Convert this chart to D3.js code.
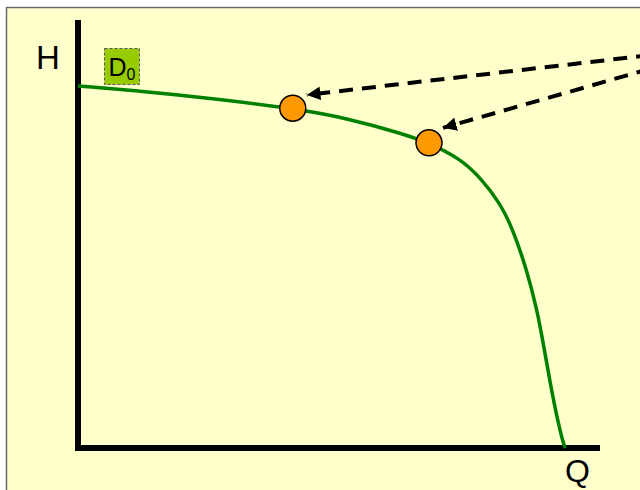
<!DOCTYPE html>
<html>
<head>
<meta charset="utf-8">
<script src="https://cdn.jsdelivr.net/npm/d3@7"></script>
<style>
  body { margin: 0; background: #fff; }
  text { font-family: "Liberation Sans", Arial, sans-serif; }
</style>
</head>
<body>
<div id="chart"></div>
<script>
// pump curve, flow Q vs head H (arbitrary units 0..100)
var curveQ = [0, 11.9, 23.5, 41.3, 52.3, 61.9, 67.5, 73.5, 77.3, 81.2, 83.7, 86.3, 88.3, 89.6, 90.8, 92.1, 93.3, 93.7];
var curveH = [84.6, 83.4, 82.0, 79.4, 76.9, 73.6, 71.3, 67.6, 63.3, 57.2, 50.9, 41.6, 32.2, 23.6, 15.2, 7.2, 1.2, 0];

// operating points marked on the curve
var pointQ = [41.3, 67.5];
var pointH = [79.4, 71.3];

// dashed arrows: from off the right edge to just above each point
var arrowFromQ = [110, 110];
var arrowFromH = [91.8, 88.6];
var arrowToQ = [44.0, 70.2];
var arrowToH = [82.5, 74.8];

var axisLabels = ["H", "Q"];
var curveName = "D";
var curveSub = "0";

((() => {
  var width = 640, height = 490;

  var svg = d3.select('#chart')
    .append('svg')
      .attr('width', width)
      .attr('height', height);

  // slide background
  svg.append('rect')
    .attr('x', 6.5)
    .attr('y', 7.5)
    .attr('width', 700)
    .attr('height', 500)
    .attr('fill', '#FFFFCC')
    .attr('stroke', '#6b6b6b')
    .attr('stroke-width', 1.5);

  var x = d3.scaleLinear().domain([0, 100]).range([78, 598]);
  var y = d3.scaleLinear().domain([0, 100]).range([448, 20]);

  var defs = svg.append('defs');
  defs.append('marker')
    .attr('id', 'head')
    .attr('viewBox', '0 0 10 10')
    .attr('refX', 10)
    .attr('refY', 5)
    .attr('markerWidth', 3.4)
    .attr('markerHeight', 3.4)
    .attr('markerUnits', 'strokeWidth')
    .attr('orient', 'auto')
    .append('path')
      .attr('d', 'M0,0 L10,5 L0,10 Z')
      .attr('fill', '#000');

  // axes, drawn as heavy lines
  svg.append('line')
    .attr('x1', x(0)).attr('x2', x(0))
    .attr('y1', y(100)).attr('y2', y(0) + 3)
    .attr('stroke', '#000')
    .attr('stroke-width', 6);
  svg.append('line')
    .attr('x1', x(0) - 3).attr('x2', x(100) + 2)
    .attr('y1', y(0)).attr('y2', y(0))
    .attr('stroke', '#000')
    .attr('stroke-width', 6);

  svg.append('text')
    .attr('x', 36)
    .attr('y', 69)
    .attr('font-size', 33)
    .text(axisLabels[0]);
  svg.append('text')
    .attr('x', 565)
    .attr('y', 482)
    .attr('font-size', 32)
    .text(axisLabels[1]);

  // curve
  var data = curveQ.map(function(q, i) { return { q: q, h: curveH[i] }; });
  var line = d3.line()
    .x(function(d) { return x(d.q); })
    .y(function(d) { return y(d.h); })
    .curve(d3.curveBasis);

  svg.append('path')
    .datum(data)
    .attr('d', line)
    .attr('fill', 'none')
    .attr('stroke', '#008000')
    .attr('stroke-width', 3.5);

  // dashed arrows pointing at the operating points
  var arrows = arrowFromQ.map(function(q, i) {
    return { fq: q, fh: arrowFromH[i], tq: arrowToQ[i], th: arrowToH[i] };
  });

  svg.selectAll('line.arrow')
    .data(arrows)
    .enter()
    .append('line')
      .attr('class', 'arrow')
      .attr('x1', function(d) { return x(d.fq); })
      .attr('y1', function(d) { return y(d.fh); })
      .attr('x2', function(d) { return x(d.tq); })
      .attr('y2', function(d) { return y(d.th); })
      .attr('stroke', '#000')
      .attr('stroke-width', 4)
      .attr('stroke-dasharray', '14,9')
      .attr('marker-end', 'url(#head)');

  var pts = pointQ.map(function(q, i) { return { q: q, h: pointH[i] }; });

  svg.selectAll('circle.op')
    .data(pts)
    .enter()
    .append('circle')
      .attr('class', 'op')
      .attr('cx', function(d) { return x(d.q); })
      .attr('cy', function(d) { return y(d.h); })
      .attr('r', 13)
      .attr('fill', '#FF9900')
      .attr('stroke', '#000')
      .attr('stroke-width', 1.5);

  // curve label box
  var lab = svg.append('g').attr('transform', 'translate(104.5,48.5)');
  lab.append('rect')
    .attr('width', 35)
    .attr('height', 36)
    .attr('fill', '#99CC00')
    .attr('stroke', '#555')
    .attr('stroke-width', 1)
    .attr('stroke-dasharray', '3,2');
  var t = lab.append('text')
    .attr('x', 4)
    .attr('y', 27)
    .attr('font-size', 25);
  t.append('tspan').text(curveName);
  t.append('tspan')
    .attr('font-size', 16)
    .attr('dy', 4)
    .text(curveSub);
})());
</script>
</body>
</html>
